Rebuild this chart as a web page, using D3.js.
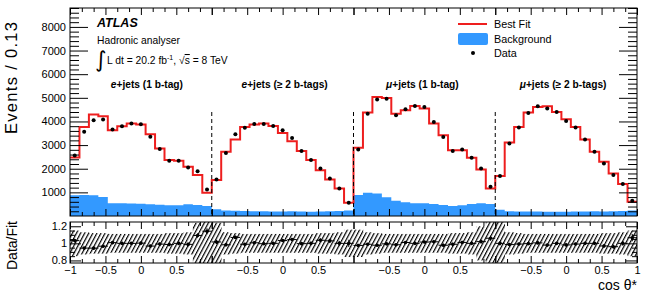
<!DOCTYPE html>
<html>
<head>
<meta charset="utf-8">
<script src="https://cdn.jsdelivr.net/npm/d3@7"></script>
<style>
  body { margin: 0; background: #fff; }
  svg { font-family: "Liberation Sans", Arial, sans-serif; }
</style>
</head>
<body>
<div id="chart"></div>
<script>
// channel names (first part is italic)
var chanLepton = ["e", "e", "\u03bc", "\u03bc"];
var chanRest = ["+jets (1 b-tag)", "+jets (\u2265 2 b-tags)", "+jets (1 b-tag)", "+jets (\u2265 2 b-tags)"];

// best fit, per channel (15 bins of cos theta*)
var fitEJ1 = [2480, 3770, 4290, 4220, 3630, 3800, 3910, 3870, 3460, 2855, 2365, 2335, 2080, 1730, 985];
var fitEJ2 = [1520, 2715, 3235, 3770, 3870, 3910, 3810, 3515, 3165, 2755, 2365, 1940, 1545, 1165, 565];
var fitMJ1 = [2885, 4375, 5035, 4995, 4330, 4470, 4655, 4545, 3910, 3420, 2785, 2785, 2460, 1970, 1165];
var fitMJ2 = [1690, 3110, 3770, 4375, 4615, 4640, 4400, 4095, 3770, 3235, 2715, 2295, 1800, 1350, 605];

// data
var dataEJ1 = [2560, 3560, 4050, 4080, 3660, 3800, 3910, 3880, 3350, 2830, 2335, 2335, 2055, 1890, 1125];
var dataEJ2 = [1545, 2670, 3460, 3730, 3895, 3895, 3810, 3630, 3305, 2745, 2365, 2010, 1590, 1165, 565];
var dataMJ1 = [2815, 4330, 4925, 4965, 4260, 4515, 4655, 4615, 3980, 3345, 2755, 2815, 2460, 2010, 1235];
var dataMJ2 = [1690, 3065, 3740, 4360, 4640, 4545, 4400, 4020, 3740, 3235, 2715, 2225, 1730, 1350, 645];

// background
var bgEJ1 = [880, 890, 880, 800, 540, 540, 530, 520, 500, 480, 450, 460, 500, 470, 420];
var bgEJ2 = [290, 230, 220, 210, 200, 200, 190, 190, 200, 190, 180, 190, 200, 210, 230];
var bgMJ1 = [885, 985, 955, 790, 650, 580, 535, 535, 505, 465, 420, 450, 505, 535, 505];
var bgMJ2 = [260, 200, 190, 190, 190, 180, 180, 180, 190, 190, 200, 190, 200, 210, 230];

// relative fit uncertainty (ratio band half width)
var uncEJ1 = [0.15, 0.13, 0.12, 0.12, 0.11, 0.11, 0.11, 0.11, 0.11, 0.11, 0.12, 0.12, 0.13, 0.24, 0.36];
var uncEJ2 = [0.24, 0.13, 0.12, 0.11, 0.11, 0.11, 0.11, 0.11, 0.11, 0.11, 0.11, 0.12, 0.12, 0.13, 0.16];
var uncMJ1 = [0.16, 0.13, 0.12, 0.11, 0.11, 0.11, 0.11, 0.11, 0.11, 0.11, 0.12, 0.12, 0.13, 0.2, 0.32];
var uncMJ2 = [0.26, 0.13, 0.12, 0.11, 0.11, 0.11, 0.11, 0.11, 0.11, 0.11, 0.11, 0.12, 0.12, 0.13, 0.15];

var yTicksMain = [1000, 2000, 3000, 4000, 5000, 6000, 7000, 8000];
var yTicksRatio = [0.8, 1, 1.2];

var fit = fitEJ1.concat(fitEJ2, fitMJ1, fitMJ2);
var dat = dataEJ1.concat(dataEJ2, dataMJ1, dataMJ2);
var bg = bgEJ1.concat(bgEJ2, bgMJ1, bgMJ2);
var unc = uncEJ1.concat(uncEJ2, uncMJ1, uncMJ2);
var nBins = fit.length;

//// layout
var W = 648, H = 292;
var mL = 70, mR = 637, mT = 8, mB = 216, rT = 222, rB = 263;

var svg = d3.select("#chart").append("svg")
  .attr("width", W).attr("height", H);

var xBin = d3.scaleLinear().domain([0, nBins]).range([mL, mR]);
var xCh = d3.scaleLinear().domain([0, 4]).range([mL, mR]);
var yMain = d3.scaleLinear().domain([0, 8800]).range([mB, mT]);
var yRatio = d3.scaleLinear().domain([0.77, 1.25]).range([rB, rT]);

var defs = svg.append("defs");
defs.append("clipPath").attr("id", "clipMain")
  .append("rect").attr("x", mL).attr("y", mT).attr("width", mR - mL).attr("height", mB - mT);
defs.append("clipPath").attr("id", "clipRatio")
  .append("rect").attr("x", mL).attr("y", rT).attr("width", mR - mL).attr("height", rB - rT);
var pat = defs.append("pattern").attr("id", "hatch")
  .attr("patternUnits", "userSpaceOnUse")
  .attr("width", 3.6).attr("height", 10)
  .attr("patternTransform", "rotate(28)");
pat.append("line").attr("x1", 0.6).attr("y1", 0).attr("x2", 0.6).attr("y2", 10)
  .attr("stroke", "#000").attr("stroke-width", 1.2);

var steps = d3.range(nBins + 1).map(function(i) { return i; });

//// main panel
var gMain = svg.append("g").attr("clip-path", "url(#clipMain)");

var bgArea = d3.area()
  .curve(d3.curveStepAfter)
  .x(function(i) { return xBin(i); })
  .y0(yMain(0))
  .y1(function(i) { return yMain(bg[Math.min(i, nBins - 1)]); });

gMain.append("path").datum(steps)
  .attr("d", bgArea)
  .attr("fill", "rgb(51,153,255)");

var fitLine = d3.line()
  .curve(d3.curveStepAfter)
  .x(function(i) { return xBin(i); })
  .y(function(i) { return yMain(fit[Math.min(i, nBins - 1)]); });

gMain.append("path").datum(steps)
  .attr("d", fitLine)
  .attr("fill", "none")
  .attr("stroke", "rgb(238,30,30)")
  .attr("stroke-width", 2);

// channel dividers
[1, 2, 3].forEach(function(c) {
  gMain.append("line")
    .attr("x1", xCh(c)).attr("x2", xCh(c))
    .attr("y1", 112).attr("y2", mB)
    .attr("stroke", "#000").attr("stroke-width", 1)
    .attr("stroke-dasharray", "4,3");
});

gMain.selectAll(".dots")
  .data(dat)
  .enter()
  .append("circle")
  .attr("class", "dots")
  .attr("r", 2)
  .attr("fill", "#000")
  .attr("cx", function(d, i) { return xBin(i + 0.5); })
  .attr("cy", function(d) { return yMain(d); });

//// ratio panel
var gRatio = svg.append("g").attr("clip-path", "url(#clipRatio)");

gRatio.selectAll(".band")
  .data(unc)
  .enter()
  .append("rect")
  .attr("class", "band")
  .attr("x", function(d, i) { return xBin(i); })
  .attr("width", xBin(1) - xBin(0) + 0.3)
  .attr("y", function(d) { return yRatio(1 + d); })
  .attr("height", function(d) { return yRatio(1 - d) - yRatio(1 + d); })
  .attr("fill", "url(#hatch)");

var ratio = dat.map(function(d, i) { return d / fit[i]; });

gRatio.selectAll(".rbar")
  .data(ratio)
  .enter()
  .append("line")
  .attr("class", "rbar")
  .attr("x1", function(d, i) { return xBin(i); })
  .attr("x2", function(d, i) { return xBin(i + 1); })
  .attr("y1", function(d) { return yRatio(d); })
  .attr("y2", function(d) { return yRatio(d); })
  .attr("stroke", "#000").attr("stroke-width", 1);

gRatio.selectAll(".rerr")
  .data(ratio)
  .enter()
  .append("line")
  .attr("class", "rerr")
  .attr("x1", function(d, i) { return xBin(i + 0.5); })
  .attr("x2", function(d, i) { return xBin(i + 0.5); })
  .attr("y1", function(d, i) { return yRatio(d + Math.sqrt(dat[i]) / fit[i]); })
  .attr("y2", function(d, i) { return yRatio(d - Math.sqrt(dat[i]) / fit[i]); })
  .attr("stroke", "#000").attr("stroke-width", 1);

gRatio.selectAll(".rdot")
  .data(ratio)
  .enter()
  .append("circle")
  .attr("class", "rdot")
  .attr("r", 1.8)
  .attr("cx", function(d, i) { return xBin(i + 0.5); })
  .attr("cy", function(d) { return yRatio(d); });

//// axes
function styleAxis(g) {
  g.select(".domain").remove();
  g.selectAll("line").attr("stroke", "#000");
  g.selectAll("text").attr("font-size", 11).attr("fill", "#000")
    .attr("font-family", "'Liberation Sans', Arial, sans-serif");
}

var minorMain = d3.range(0, 8801, 200).filter(function(v) { return v % 1000 !== 0; });

svg.append("g").attr("transform", "translate(" + mL + ",0)")
  .call(d3.axisLeft(yMain).tickValues(yTicksMain).tickSize(-18).tickPadding(4).tickFormat(d3.format("d")))
  .call(styleAxis);
svg.append("g").attr("transform", "translate(" + mL + ",0)")
  .call(d3.axisLeft(yMain).tickValues(minorMain).tickSize(-9).tickFormat(""))
  .call(styleAxis);
svg.append("g").attr("transform", "translate(" + mR + ",0)")
  .call(d3.axisRight(yMain).tickValues(yTicksMain).tickSize(-18).tickFormat(""))
  .call(styleAxis);
svg.append("g").attr("transform", "translate(" + mR + ",0)")
  .call(d3.axisRight(yMain).tickValues(minorMain).tickSize(-9).tickFormat(""))
  .call(styleAxis);

var minorRatio = [0.85, 0.9, 0.95, 1.05, 1.1, 1.15];
svg.append("g").attr("transform", "translate(" + mL + ",0)")
  .call(d3.axisLeft(yRatio).tickValues(yTicksRatio).tickSize(-11).tickPadding(3).tickFormat(d3.format("")))
  .call(styleAxis);
svg.append("g").attr("transform", "translate(" + mL + ",0)")
  .call(d3.axisLeft(yRatio).tickValues(minorRatio).tickSize(-5).tickFormat(""))
  .call(styleAxis);
svg.append("g").attr("transform", "translate(" + mR + ",0)")
  .call(d3.axisRight(yRatio).tickValues(yTicksRatio).tickSize(-11).tickFormat(""))
  .call(styleAxis);
svg.append("g").attr("transform", "translate(" + mR + ",0)")
  .call(d3.axisRight(yRatio).tickValues(minorRatio).tickSize(-5).tickFormat(""))
  .call(styleAxis);

// x ticks: 12 divisions per channel, labels at -1, -0.5, 0, 0.5, 1
var xMajor = [], xMinor = [], xLabeled = [];
for (var c = 0; c < 4; c++) {
  for (var k = 0; k <= 12; k++) {
    var u = c + k / 12;
    if (k % 3 === 0) xMajor.push(u); else xMinor.push(u);
    if ((k === 3 || k === 6 || k === 9) || (c === 0 && k === 0) || (c === 3 && k === 12)) xLabeled.push(u);
  }
}
function cosLabel(u) {
  var c = Math.min(Math.floor(u + 1e-6), 3);
  var v = Math.round(((u - c) * 2 - 1) * 10) / 10;
  return v < 0 ? "\u2212" + Math.abs(v) : String(v);
}

[[mT, d3.axisTop], [mB, d3.axisBottom], [rT, d3.axisTop], [rB, d3.axisBottom]].forEach(function(p) {
  svg.append("g").attr("transform", "translate(0," + p[0] + ")")
    .call(p[1](xCh).tickValues(xMajor).tickSize(-7).tickFormat(""))
    .call(styleAxis);
  svg.append("g").attr("transform", "translate(0," + p[0] + ")")
    .call(p[1](xCh).tickValues(xMinor).tickSize(-4).tickFormat(""))
    .call(styleAxis);
});

svg.append("g").attr("transform", "translate(0," + rB + ")")
  .call(d3.axisBottom(xCh).tickValues(xLabeled).tickSize(0).tickPadding(3).tickFormat(cosLabel))
  .call(styleAxis);

// frames
svg.append("rect").attr("x", mL).attr("y", mT).attr("width", mR - mL).attr("height", mB - mT)
  .attr("fill", "none").attr("stroke", "#000").attr("stroke-width", 1);
svg.append("rect").attr("x", mL).attr("y", rT).attr("width", mR - mL).attr("height", rB - rT)
  .attr("fill", "none").attr("stroke", "#000").attr("stroke-width", 1);

//// titles
svg.append("text")
  .attr("transform", "translate(17,22) rotate(-90)")
  .attr("text-anchor", "end")
  .attr("font-size", 16.5)
  .attr("textLength", 112)
  .attr("lengthAdjust", "spacing")
  .text("Events / 0.13");
svg.append("text")
  .attr("transform", "translate(17,221) rotate(-90)")
  .attr("text-anchor", "end")
  .attr("font-size", 14)
  .text("Data/Fit");
svg.append("text")
  .attr("x", mR).attr("y", 290)
  .attr("text-anchor", "end")
  .attr("font-size", 14)
  .text("cos \u03b8*");

// channel labels
var labelShift = [6, 2, -2, -3];
chanRest.forEach(function(t, i) {
  var tx = svg.append("text")
    .attr("x", xCh(i + 0.5) + labelShift[i]).attr("y", 88)
    .attr("text-anchor", "middle")
    .attr("font-size", 10.2)
    .attr("font-weight", "bold");
  tx.append("tspan").attr("font-style", "italic").text(chanLepton[i]);
  tx.append("tspan").text(t);
});

// ATLAS text
svg.append("text").attr("x", 97).attr("y", 27)
  .attr("font-size", 12.5).attr("font-weight", "bold").attr("font-style", "italic")
  .text("ATLAS");
svg.append("text").attr("x", 97).attr("y", 44)
  .attr("font-size", 10.3)
  .text("Hadronic analyser");
svg.append("text").attr("x", 95).attr("y", 67)
  .attr("font-size", 22).attr("font-family", "'DejaVu Sans', sans-serif")
  .text("\u222b");
var lumi = svg.append("text").attr("x", 107).attr("y", 64).attr("font-size", 10.3);
lumi.append("tspan").text("L dt = 20.2 fb");
lumi.append("tspan").attr("dy", -4).attr("font-size", 7).text("-1");
lumi.append("tspan").attr("dy", 4).text(", \u221a");
lumi.append("tspan").attr("text-decoration", "overline").text("s");
lumi.append("tspan").text(" = 8 TeV");

//// legend
svg.append("line").attr("x1", 458).attr("x2", 487).attr("y1", 24).attr("y2", 24)
  .attr("stroke", "rgb(238,30,30)").attr("stroke-width", 2);
svg.append("rect").attr("x", 458).attr("y", 33).attr("width", 30).attr("height", 12).attr("rx", 2)
  .attr("fill", "rgb(51,153,255)");
svg.append("circle").attr("cx", 473).attr("cy", 53).attr("r", 2);
[["Best Fit", 28], ["Background", 42.5], ["Data", 57]].forEach(function(l) {
  svg.append("text").attr("x", 494).attr("y", l[1]).attr("font-size", 10.8).text(l[0]);
});
</script>
</body>
</html>
